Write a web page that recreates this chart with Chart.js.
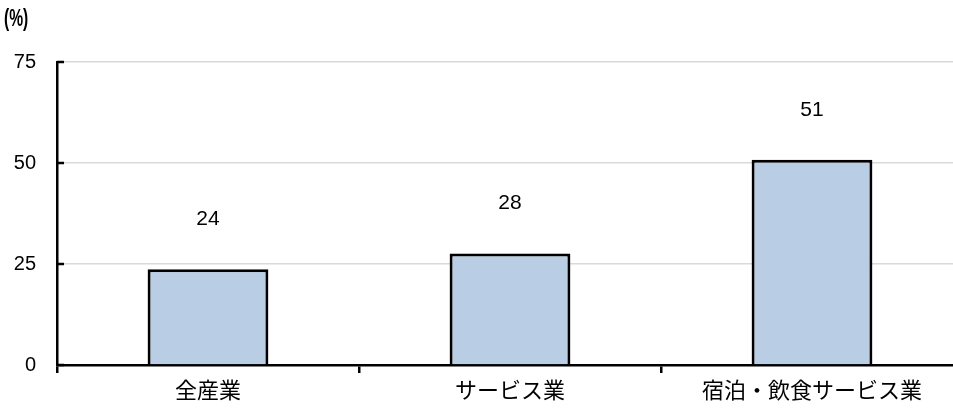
<!DOCTYPE html>
<html><head><meta charset="utf-8">
<script src="https://cdn.jsdelivr.net/npm/chart.js@4/dist/chart.umd.min.js"></script>
<style>html,body{margin:0;padding:0;overflow:hidden;background:#fff;width:953px;height:408px}</style>
</head><body>
<canvas id="c" width="963" height="408" style="display:block"></canvas>
<script>
const categories = ['全産業', 'サービス業', '宿泊・飲食サービス業'];
const values = [23.7, 27.6, 50.8];
const valueLabels = ['24', '28', '51'];
const yTicks = [0, 25, 50, 75];
const unitLabel = '(%)';

const FONT_NUM = '"Liberation Sans", Arial, sans-serif';
const FONT_JP = '"Noto Sans CJK JP", sans-serif';

const extras = {
  id: 'extras',
  afterDatasetsDraw(chart) {
    const ctx = chart.ctx;
    const y = chart.scales.y;
    const area = chart.chartArea;
    ctx.save();
    ctx.strokeStyle = '#000';
    ctx.lineWidth = 2.5;
    yTicks.forEach(v => {
      const py = Math.round(y.getPixelForValue(v));
      ctx.beginPath();
      ctx.moveTo(area.left, py);
      ctx.lineTo(area.left + 7, py);
      ctx.stroke();
    });
    ctx.fillStyle = '#000';
    ctx.font = '21px ' + FONT_NUM;
    ctx.textAlign = 'center';
    ctx.textBaseline = 'middle';
    const meta = chart.getDatasetMeta(0);
    meta.data.forEach((bar, i) => {
      ctx.fillText(valueLabels[i], bar.x, bar.y - 50);
    });
    ctx.font = 'bold 23px ' + FONT_NUM;
    ctx.textAlign = 'left';
    ctx.translate(4, 20);
    ctx.scale(0.68, 1);
    ctx.fillText(unitLabel, 0, 0);
    ctx.restore();
  }
};

new Chart(document.getElementById('c'), {
  type: 'bar',
  data: {
    labels: categories,
    datasets: [{
      data: values,
      backgroundColor: '#b9cde4',
      borderColor: '#000',
      borderWidth: 3,
      barPercentage: 0.4,
      categoryPercentage: 1.0
    }]
  },
  options: {
    responsive: false,
    animation: false,
    layout: { padding: { top: 62, right: 0, left: 0, bottom: 0 } },
    plugins: { legend: { display: false }, tooltip: { enabled: false } },
    scales: {
      x: {
        grid: { display: true, drawOnChartArea: false, drawTicks: true, tickLength: 8, color: '#000', lineWidth: 2.5 },
        border: { display: true, color: '#000', width: 2.5 },
        ticks: { color: '#000', font: { family: FONT_JP, size: 22 }, padding: 3 },
        afterFit(s) { s.height = 43; }
      },
      y: {
        min: 0, max: 75,
        afterBuildTicks(s) { s.ticks = yTicks.map(v => ({ value: v })); },
        grid: { color: '#d9d9d9', lineWidth: 1.5, drawTicks: false },
        border: { display: true, color: '#000', width: 2.5 },
        ticks: { color: '#000', font: { family: FONT_NUM, size: 20 }, padding: 21 },
        afterFit(s) { s.width = 57; }
      }
    }
  },
  plugins: [extras]
});
</script>
</body></html>
